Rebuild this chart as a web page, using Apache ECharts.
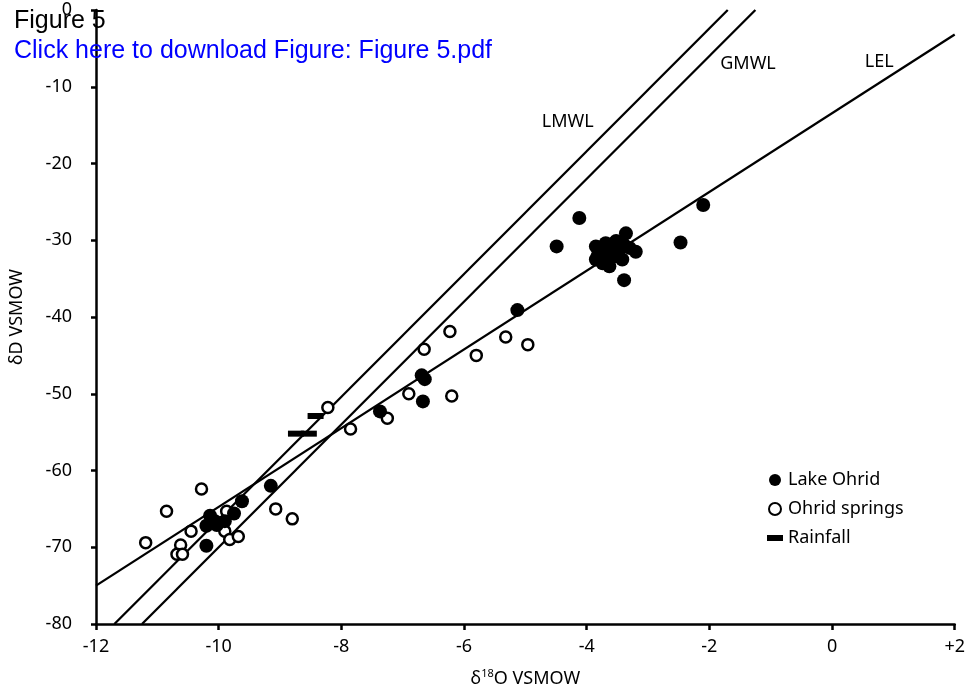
<!DOCTYPE html>
<html>
<head>
<meta charset="utf-8">
<title>Figure 5</title>
<script src="https://cdn.jsdelivr.net/npm/echarts@6/dist/echarts.min.js"></script>
</head>
<body style="margin:0;background:#fff">
<div id="main" style="width:968px;height:693px"></div>
<script>
// [d18O, dD]
var lakeOhrid = [
  [-9.15, -62.0], [-9.62, -64.0], [-9.75, -65.6], [-10.14, -65.9], [-10.20, -67.2],
  [-10.03, -67.1], [-9.90, -66.6], [-10.06, -66.6], [-10.20, -69.8],
  [-7.37, -52.3], [-6.69, -47.6], [-6.64, -48.1], [-6.67, -51.0], [-5.13, -39.1],
  [-4.12, -27.1], [-4.49, -30.8], [-2.47, -30.3], [-2.10, -25.4], [-3.39, -35.2],
  [-3.85, -30.8], [-3.85, -32.5], [-3.69, -30.4], [-3.52, -30.1], [-3.36, -29.1],
  [-3.39, -30.6], [-3.20, -31.5], [-3.63, -33.4], [-3.74, -33.0], [-3.52, -32.1],
  [-3.69, -31.7], [-3.42, -32.5], [-3.80, -31.7], [-3.60, -31.0], [-3.75, -31.2],
  [-3.55, -31.6], [-3.30, -31.0], [-3.65, -32.6], [-3.47, -31.2], [-3.58, -30.5],
  [-3.82, -32.0]
];
var ohridSprings = [
  [-10.28, -62.4], [-10.85, -65.3], [-11.19, -69.4], [-10.45, -67.9], [-10.62, -69.7],
  [-10.68, -70.9], [-10.59, -70.9], [-9.90, -67.9], [-9.82, -69.0], [-9.68, -68.6],
  [-9.87, -65.3], [-9.07, -65.0], [-8.80, -66.3],
  [-8.22, -51.8], [-7.25, -53.2], [-7.85, -54.6], [-6.90, -50.0], [-6.65, -44.2],
  [-6.23, -41.9], [-6.20, -50.3], [-5.80, -45.0], [-5.32, -42.6], [-4.96, -43.6]
];
var rainfall = [[-8.42, -52.9], [-8.74, -55.2], [-8.53, -55.2]];

// line end points
var lmwl = [[-11.7, -80], [-1.7, 0]];
var gmwl = [[-11.25, -80], [-1.25, 0]];
var lel = [[-12, -75.0], [2, -3.2]];
var lineNames = ['LMWL', 'GMWL', 'LEL'];
var lineLabelPos = [[-4.31, -14.6], [-1.37, -7.0], [0.77, -6.8]];

var font = 'Noto Sans';
var ink = '#000';

var myChart = echarts.init(document.getElementById('main'));

function waterLine(d) {
  return {
    type: 'line', data: d, symbol: 'none', silent: true, z: 1,
    lineStyle: { color: ink, width: 2.3 }
  };
}

var option = {
  animation: false,
  title: [
    { text: 'Figure 5', left: 14, top: 9, padding: 0,
      textStyle: { fontFamily: 'Liberation Sans', fontSize: 25, fontWeight: 'normal', color: '#000' } },
    { text: 'Click here to download Figure: Figure 5.pdf', left: 14, top: 39, padding: 0,
      textStyle: { fontFamily: 'Liberation Sans', fontSize: 25, fontWeight: 'normal', color: '#0000ff' } }
  ],
  grid: { left: 92, right: 12, top: 10, bottom: 68 },
  legend: {
    data: ['Lake Ohrid', 'Ohrid springs', { name: 'Rainfall', icon: 'path://M0,0H16V6H0Z' }],
    orient: 'vertical', left: 762, top: 466,
    itemWidth: 16, itemHeight: 12, itemGap: 11,
    textStyle: { fontFamily: font, fontSize: 18, color: ink }
  },
  xAxis: {
    type: 'value', min: -12, max: 2, interval: 2,
    name: '{a|δ}{sup|18}{a|O VSMOW}', nameLocation: 'middle', nameGap: 44,
    nameTextStyle: {
      fontFamily: font, color: ink,
      rich: {
        a: { fontFamily: font, fontSize: 18, color: ink, lineHeight: 22 },
        sup: { fontFamily: font, fontSize: 11, color: ink, lineHeight: 12, verticalAlign: 'top' }
      }
    },
    axisLine: { onZero: false, lineStyle: { color: ink, width: 2.5 } },
    axisTick: { length: 6, lineStyle: { color: ink, width: 2.5 } },
    axisLabel: { fontFamily: font, fontSize: 18, color: ink, margin: 14,
      formatter: function (v) { return v > 0 ? '+' + v : String(v); } },
    splitLine: { show: false }
  },
  yAxis: {
    type: 'value', min: -80, max: 0, interval: 10,
    name: 'δD VSMOW', nameLocation: 'middle', nameGap: 70, nameRotate: 90,
    nameTextStyle: { fontFamily: font, fontSize: 18, color: ink },
    axisLine: { onZero: false, lineStyle: { color: ink, width: 2.5 } },
    axisTick: { length: 5, lineStyle: { color: ink, width: 2.5 } },
    axisLabel: { fontFamily: font, fontSize: 18, color: ink, margin: 24 },
    splitLine: { show: false }
  },
  series: [
    waterLine(lmwl), waterLine(gmwl), waterLine(lel),
    {
      name: 'Ohrid springs', type: 'scatter', data: ohridSprings, z: 2,
      symbol: 'circle', symbolSize: 11,
      itemStyle: { color: '#fff', borderColor: ink, borderWidth: 2.5, opacity: 1 }
    },
    {
      name: 'Lake Ohrid', type: 'scatter', data: lakeOhrid, z: 3,
      symbol: 'circle', symbolSize: 14,
      itemStyle: { color: ink, opacity: 1 }
    },
    {
      name: 'Rainfall', type: 'scatter', data: rainfall, z: 4,
      symbol: 'rect', symbolSize: [16, 6],
      itemStyle: { color: ink, opacity: 1 }
    },
    {
      type: 'scatter', silent: true, z: 5, symbolSize: 0,
      itemStyle: { opacity: 1 },
      data: lineNames.map(function (n, i) { return { name: n, value: lineLabelPos[i] }; }),
      label: { show: true, position: 'inside', formatter: '{b}', opacity: 1,
        fontFamily: font, fontSize: 18, color: '#000', textBorderWidth: 0 }
    }
  ]
};

myChart.setOption(option);
</script>
</body>
</html>
